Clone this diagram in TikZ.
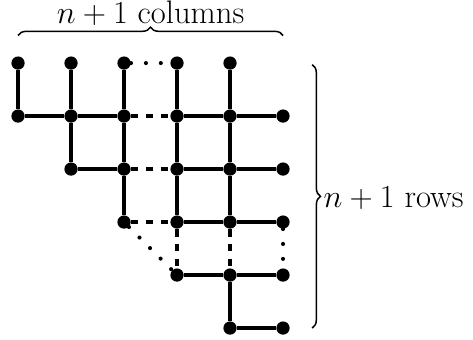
\documentclass[tikz,border=0pt]{standalone}
\usetikzlibrary{decorations.pathreplacing, positioning}

\begin{document}
\begin{tikzpicture}[
      font=\fontsize{17.5}{21}\selectfont,
      dot/.style={
          circle,
          fill,
          inner sep=0pt,
          minimum size=0.25cm
      },
      edge/.style={line width=1.8pt},
      dashedge/.style={line width=1.8pt, dash pattern=on 4pt off 4pt},
      dotedge/.style={line width=2.2pt, line cap=round, dash pattern=on 0pt off 8pt},
      bracebar/.style={decorate, decoration={brace, amplitude=4.5pt}, line width=0.8pt}
  ]
      \useasboundingbox (-0.34,1.19) rectangle (8.585,-5.21);

      % --- Grid points ---
      \foreach \c in {0,...,4} \node[dot] (p0-\c) at (\c,0) {};
      \foreach \c in {0,...,5} \node[dot] (p1-\c) at (\c,-1) {};
      \foreach \c in {1,...,5} \node[dot] (p2-\c) at (\c,-2) {};
      \foreach \c in {2,...,5} \node[dot] (p3-\c) at (\c,-3) {};
      \foreach \c in {3,...,5} \node[dot] (p4-\c) at (\c,-4) {};
      \foreach \c in {4,5} \node[dot] (p5-\c) at (\c,-5) {};

      % --- Columns ---
      \draw[edge] (p0-0) -- (p1-0);
      \draw[edge] (p0-1) -- (p1-1) -- (p2-1);
      \draw[edge] (p0-2) -- (p1-2) -- (p2-2) -- (p3-2);
      \draw[edge] (p0-3) -- (p1-3) -- (p2-3) -- (p3-3);
      \draw[edge] (p0-4) -- (p1-4) -- (p2-4) -- (p3-4);
      \draw[edge] (p4-4) -- (p5-4);
      \draw[dashedge] (p3-3) -- (p4-3);
      \draw[dashedge] (p3-4) -- (p4-4);
      \draw[dotedge] (p3-5) -- (p4-5);

      % --- Rows ---
      \draw[dotedge] (p0-2) -- (p0-3);
      \draw[edge] (p1-0) -- (p1-1) -- (p1-2);
      \draw[edge] (p1-3) -- (p1-4) -- (p1-5);
      \draw[edge] (p2-1) -- (p2-2);
      \draw[edge] (p2-3) -- (p2-4) -- (p2-5);
      \draw[edge] (p3-3) -- (p3-4) -- (p3-5);
      \draw[edge] (p4-3) -- (p4-4) -- (p4-5);
      \draw[edge] (p5-4) -- (p5-5);
      \draw[dashedge] (p1-2) -- (p1-3);
      \draw[dashedge] (p2-2) -- (p2-3);
      \draw[dashedge] (p3-2) -- (p3-3);
      \draw[dotedge] (p3-2) -- (p4-3);

      % --- Braces ---
      \coordinate (colL) at (0,0.52);
      \coordinate (colR) at (5,0.52);
      \coordinate (rowT) at (5.55,-0.03);
      \coordinate (rowB) at (5.55,-5);
      \draw[bracebar] (colL) -- (colR);
      \draw[bracebar] (rowT) -- (rowB);
      \node[anchor=base] (collabel) at (2.5,0.74) {$n+1$ columns};
      \node[anchor=base west, inner sep=0pt] (rowlabel) at (5.76,-2.72) {$n+1$ rows};

  \end{tikzpicture}
\end{document}
